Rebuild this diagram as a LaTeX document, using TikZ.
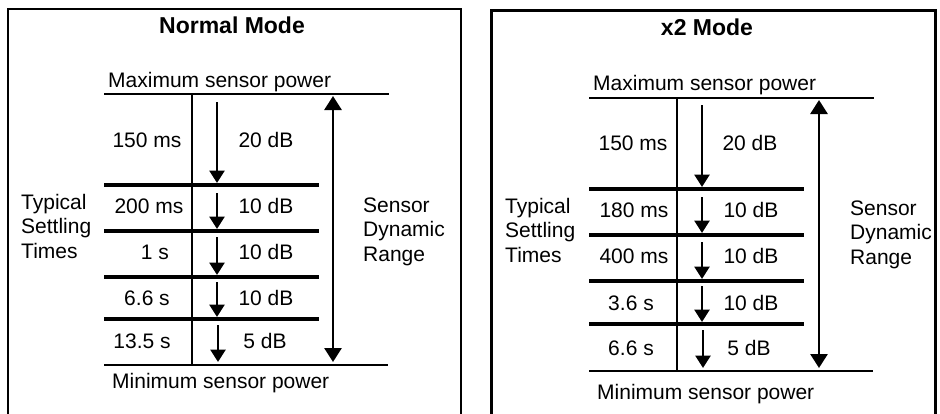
\documentclass[tikz,border=0pt]{standalone}
\usepackage{fontspec}
\setmainfont{Liberation Sans}
\usetikzlibrary{arrows.meta}
\begin{document}
\begin{tikzpicture}[x=1pt,y=-1pt,
  frame/.style={line width=2pt},
  level/.style={line width=2.7pt},
  sep/.style={line width=4.6pt},
  drop/.style={line width=2.8pt,-{Triangle[width=15pt,length=12.5pt]}},
  span/.style={line width=2.8pt,{Triangle[width=17pt,length=14pt]}-{Triangle[width=17pt,length=14pt]}},
  txt/.style={font=\fontsize{21}{24.5}\selectfont,inner sep=0pt,anchor=base},
  note/.style={txt,align=left,anchor=base west},
  title/.style={font=\fontsize{23}{26}\selectfont\bfseries,inner sep=0pt,anchor=base}]
\useasboundingbox (0,0) rectangle (940,413);
% Normal Mode
\draw[frame] (8,420) -- (8,9) -- (461,9) -- (461,420);
\node[title] (ntitle) at (232,33) {Normal Mode};
\node[txt,anchor=base west] (nmax) at (108,87) {Maximum sensor power};
\node[txt,anchor=base west] (nmin) at (112,388) {Minimum sensor power};
\draw[level] (104,94) -- (389,94);
\draw[sep] (104,185) -- (319,185);
\draw[sep] (104,231) -- (319,231);
\draw[sep] (104,277) -- (319,277);
\draw[sep] (104,319) -- (319,319);
\draw[level] (104,365) -- (388,365);
\draw[level] (192,94) -- (192,365);
\node[txt] (nt1) at (147,147) {150 ms};
\node[txt] (nt2) at (149,213) {200 ms};
\node[txt] (nt3) at (155,259) {1 s};
\node[txt] (nt4) at (147,305) {6.6 s};
\node[txt] (nt5) at (142,348) {13.5 s};
\node[txt] (nd1) at (266,147) {20 dB};
\node[txt] (nd2) at (266,213) {10 dB};
\node[txt] (nd3) at (266,259) {10 dB};
\node[txt] (nd4) at (266,305) {10 dB};
\node[txt] (nd5) at (265,348) {5 dB};
\node[note] (ntyp) at (21,258) {Typical\\Settling\\Times};
\node[note] (nsen) at (363,261) {Sensor\\Dynamic\\Range};
\coordinate (na0) at (217,102); \coordinate (nb0) at (217,183);
\coordinate (na1) at (217,193); \coordinate (nb1) at (217,229);
\coordinate (na2) at (217,237); \coordinate (nb2) at (217,275);
\coordinate (na3) at (217,282); \coordinate (nb3) at (217,317);
\coordinate (na4) at (218,325); \coordinate (nb4) at (218,362);
\draw[drop] (na0) -- (nb0);
\draw[drop] (na1) -- (nb1);
\draw[drop] (na2) -- (nb2);
\draw[drop] (na3) -- (nb3);
\draw[drop] (na4) -- (nb4);
\coordinate (nrtop) at (333,96); \coordinate (nrbot) at (333,362);
\draw[span] (nrtop) -- (nrbot);
% x2 Mode
\draw[frame,line width=3pt] (491,420) -- (491,10.5) -- (935.5,10.5) -- (935.5,420);
\node[title] (xtitle) at (707,35) {x2 Mode};
\node[txt,anchor=base west] (xmax) at (593,90) {Maximum sensor power};
\node[txt,anchor=base west] (xmin) at (597,399) {Minimum sensor power};
\draw[level] (589,98) -- (874,98);
\draw[sep] (589,189) -- (804,189);
\draw[sep] (589,235) -- (804,235);
\draw[sep] (589,281) -- (804,281);
\draw[sep] (589,324) -- (804,324);
\draw[level] (589,371) -- (873,371);
\draw[level] (677,98) -- (677,371);
\node[txt] (xt1) at (633,150) {150 ms};
\node[txt] (xt2) at (634,217) {180 ms};
\node[txt] (xt3) at (634,263) {400 ms};
\node[txt] (xt4) at (631,310) {3.6 s};
\node[txt] (xt5) at (631,355) {6.6 s};
\node[txt] (xd1) at (750,150) {20 dB};
\node[txt] (xd2) at (751,217) {10 dB};
\node[txt] (xd3) at (751,263) {10 dB};
\node[txt] (xd4) at (751,310) {10 dB};
\node[txt] (xd5) at (749,355) {5 dB};
\node[note] (xtyp) at (505,262) {Typical\\Settling\\Times};
\node[note] (xsen) at (850,264) {Sensor\\Dynamic\\Range};
\coordinate (xa0) at (702,105); \coordinate (xb0) at (702,187);
\coordinate (xa1) at (702,197); \coordinate (xb1) at (702,233);
\coordinate (xa2) at (702,242); \coordinate (xb2) at (702,279);
\coordinate (xa3) at (702,286); \coordinate (xb3) at (702,322);
\coordinate (xa4) at (703,330); \coordinate (xb4) at (703,368);
\draw[drop] (xa0) -- (xb0);
\draw[drop] (xa1) -- (xb1);
\draw[drop] (xa2) -- (xb2);
\draw[drop] (xa3) -- (xb3);
\draw[drop] (xa4) -- (xb4);
\coordinate (xrtop) at (819,100); \coordinate (xrbot) at (819,368);
\draw[span] (xrtop) -- (xrbot);
\end{tikzpicture}
\end{document}
